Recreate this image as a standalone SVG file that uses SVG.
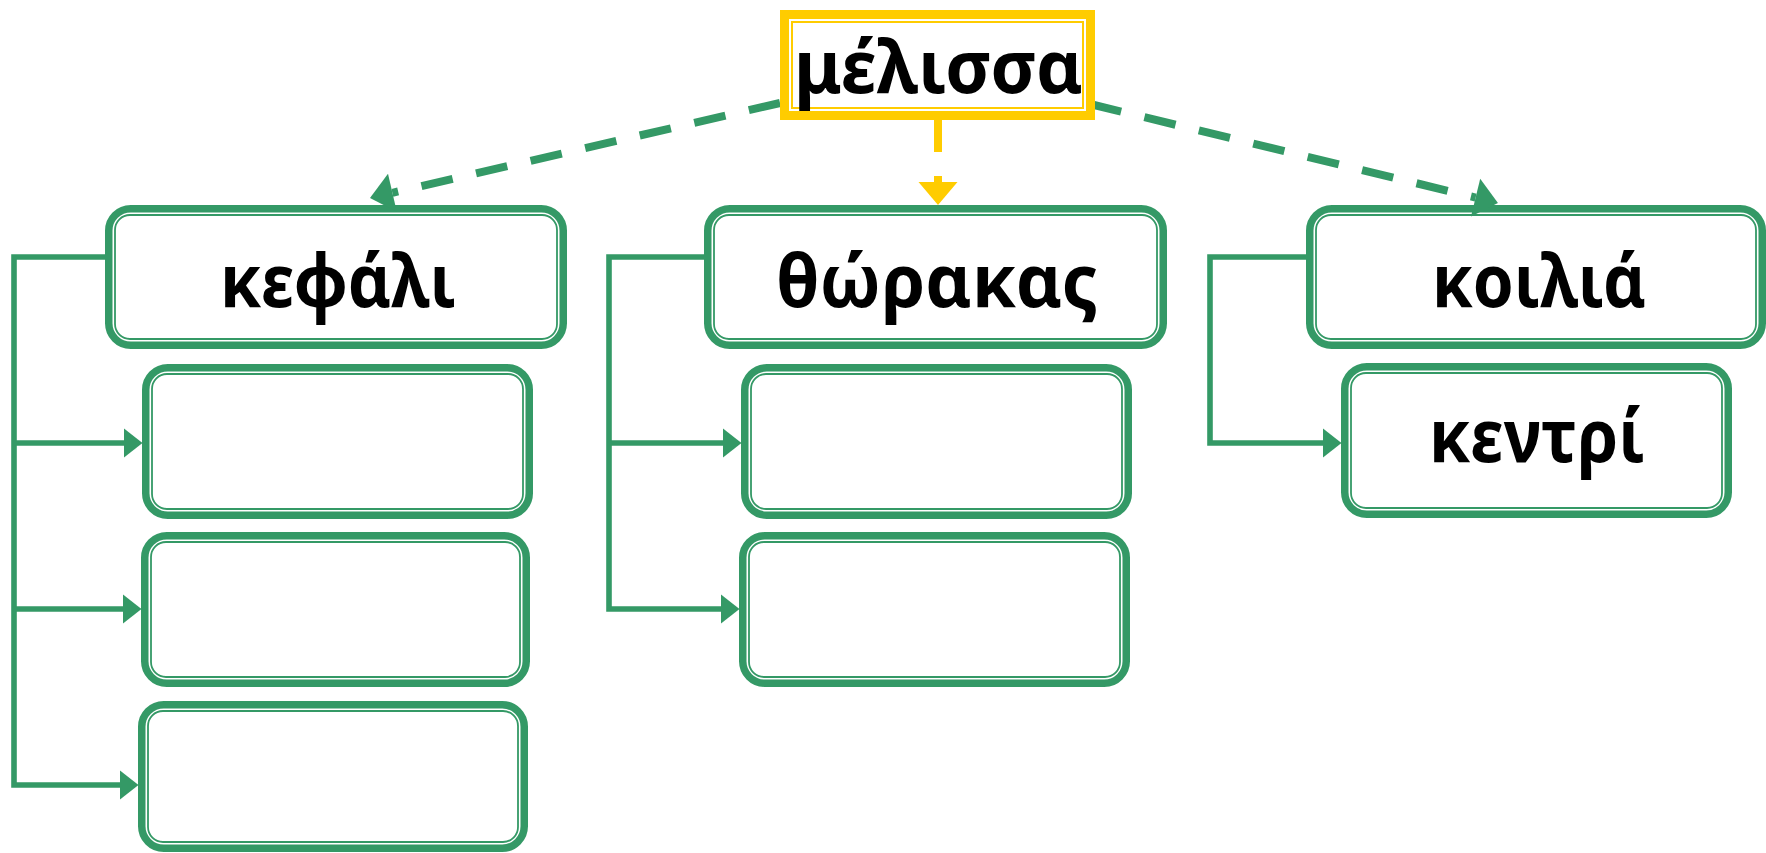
<svg xmlns="http://www.w3.org/2000/svg" width="1766" height="853" viewBox="0 0 1766 853">
<style>
.thick{fill:#fff;stroke:#349966;stroke-width:7.5}
.thin{fill:none;stroke:#349966;stroke-width:1.8}
.ythick{fill:#fff;stroke:#FFCC00;stroke-width:9}
.ythin{fill:none;stroke:#FFCC00;stroke-width:2}
.lbl{font-family:"Noto Sans","Open Sans","DejaVu Sans",sans-serif;font-weight:bold;font-size:74px;fill:#000;text-anchor:middle}
.solid{fill:none;stroke:#349966;stroke-width:5.6}
.dashg{fill:none;stroke:#349966;stroke-width:8;stroke-dasharray:32 24}
.dashy{fill:none;stroke:#FFCC00;stroke-width:8;stroke-dasharray:32 24}
</style>
<defs>
<marker id="arr" markerUnits="userSpaceOnUse" markerWidth="19" markerHeight="30" refX="0" refY="14.5" orient="auto" overflow="visible">
<path d="M0,0 L18.5,14.5 L0,29 z" fill="#349966"/>
</marker>
<marker id="arrG" markerUnits="userSpaceOnUse" markerWidth="24" markerHeight="40" refX="0" refY="19.5" orient="auto" overflow="visible">
<path d="M0,0 L23,19.5 L0,39 z" fill="#349966"/>
</marker>
<marker id="arrY" markerUnits="userSpaceOnUse" markerWidth="24" markerHeight="40" refX="0" refY="19.5" orient="auto" overflow="visible">
<path d="M0,0 L23,19.5 L0,39 z" fill="#FFCC00"/>
</marker>
</defs>
<rect width="1766" height="853" fill="#fff"/>

<g id="connectors">
<path class="solid" d="M105,257 H14 V785 H120" marker-end="url(#arr)"/>
<path class="solid" d="M14,443 H124" marker-end="url(#arr)"/>
<path class="solid" d="M14,609 H123" marker-end="url(#arr)"/>
<path class="solid" d="M704,257 H609 V609 H721" marker-end="url(#arr)"/>
<path class="solid" d="M609,443 H723" marker-end="url(#arr)"/>
<path class="solid" d="M1306,257 H1210 V443 H1323" marker-end="url(#arr)"/>
</g>

<g id="node-kefali">
<rect class="thick" x="108.75" y="208.75" width="454.5" height="136.5" rx="22"/>
<rect class="thin" x="115" y="215" width="442" height="124" rx="15"/>
<text class="lbl" x="338" y="307" textLength="236" lengthAdjust="spacingAndGlyphs">κεφάλι</text>
</g>
<g id="node-thorakas">
<rect class="thick" x="707.75" y="208.75" width="455.5" height="136.5" rx="22"/>
<rect class="thin" x="714" y="215" width="443" height="124" rx="15"/>
<text class="lbl" x="937" y="307" textLength="322" lengthAdjust="spacingAndGlyphs">θώρακας</text>
</g>
<g id="node-koilia">
<rect class="thick" x="1309.75" y="208.75" width="452.5" height="136.5" rx="22"/>
<rect class="thin" x="1316" y="215" width="440" height="124" rx="15"/>
<text class="lbl" x="1539" y="307" textLength="214" lengthAdjust="spacingAndGlyphs">κοιλιά</text>
</g>

<g id="node-kefali-1">
<rect class="thick" x="145.75" y="367.75" width="383.5" height="147.5" rx="22"/>
<rect class="thin" x="152" y="374" width="371" height="135" rx="15"/>
</g>
<g id="node-kefali-2">
<rect class="thick" x="144.75" y="535.75" width="381.5" height="147.5" rx="22"/>
<rect class="thin" x="151" y="542" width="369" height="135" rx="15"/>
</g>
<g id="node-kefali-3">
<rect class="thick" x="141.75" y="704.75" width="382.5" height="143.5" rx="22"/>
<rect class="thin" x="148" y="711" width="370" height="131" rx="15"/>
</g>
<g id="node-thorakas-1">
<rect class="thick" x="744.75" y="367.75" width="383.5" height="147.5" rx="22"/>
<rect class="thin" x="751" y="374" width="371" height="135" rx="15"/>
</g>
<g id="node-thorakas-2">
<rect class="thick" x="742.75" y="535.75" width="383.5" height="147.5" rx="22"/>
<rect class="thin" x="749" y="542" width="371" height="135" rx="15"/>
</g>
<g id="node-kentri">
<rect class="thick" x="1344.75" y="366.75" width="383.5" height="147.5" rx="22"/>
<rect class="thin" x="1351" y="373" width="371" height="135" rx="15"/>
<text class="lbl" x="1537" y="462" textLength="216" lengthAdjust="spacingAndGlyphs">κεντρί</text>
</g>

<g id="connectors-top">
<path class="dashg" d="M780,103 L392.4,192.8" marker-end="url(#arrG)"/>
<path class="dashg" d="M1090,104 L1475.6,197.6" marker-end="url(#arrG)"/>
<path class="dashy" d="M938,120 V182" marker-end="url(#arrY)"/>
</g>

<g id="node-melissa">
<rect class="ythick" x="784.5" y="14.5" width="306" height="101"/>
<rect class="ythin" x="792" y="22" width="291" height="86"/>
<text class="lbl" x="938.5" y="93" textLength="289" lengthAdjust="spacingAndGlyphs">μέλισσα</text>
</g>
</svg>
